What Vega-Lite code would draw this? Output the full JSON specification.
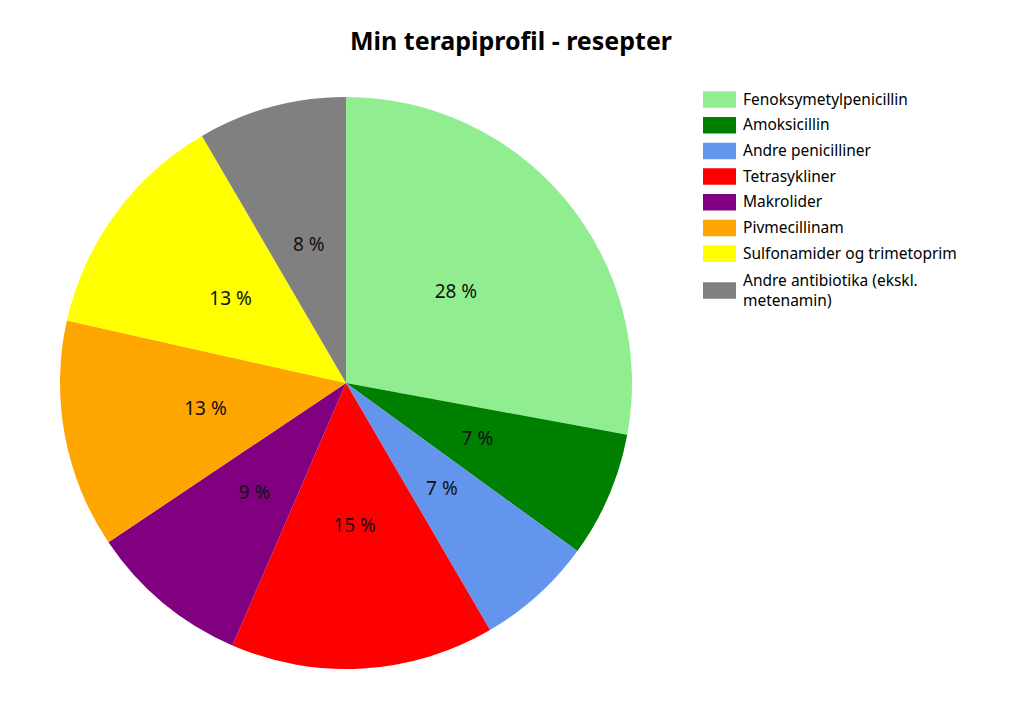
{
  "$schema": "https://vega.github.io/schema/vega-lite/v6.json",
  "autosize": "none",
  "width": 692,
  "height": 572,
  "padding": {"left": 0, "top": 97, "right": 332, "bottom": 37},
  "background": "white",
  "title": {
    "text": "Min terapiprofil - resepter",
    "font": "Noto Sans",
    "fontSize": 25,
    "fontWeight": "bold",
    "color": "#000000",
    "anchor": "middle",
    "dx": 165,
    "offset": 28
  },
  "config": {"view": {"stroke": null}},
  "data": {
    "values": [
      {"nr": 1, "gruppe": "Fenoksymetylpenicillin", "andel": 27.9, "etikett": "28 %"},
      {"nr": 2, "gruppe": "Amoksicillin", "andel": 7.1, "etikett": "7 %"},
      {"nr": 3, "gruppe": "Andre penicilliner", "andel": 6.6, "etikett": "7 %"},
      {"nr": 4, "gruppe": "Tetrasykliner", "andel": 14.9, "etikett": "15 %"},
      {"nr": 5, "gruppe": "Makrolider", "andel": 9.1, "etikett": "9 %"},
      {"nr": 6, "gruppe": "Pivmecillinam", "andel": 12.9, "etikett": "13 %"},
      {"nr": 7, "gruppe": "Sulfonamider og trimetoprim", "andel": 13.1, "etikett": "13 %"},
      {"nr": 8, "gruppe": "Andre antibiotika (ekskl. metenamin)", "andel": 8.4, "etikett": "8 %"}
    ]
  },
  "encoding": {
    "theta": {"field": "andel", "type": "quantitative", "stack": true},
    "order": {"field": "nr", "type": "quantitative"}
  },
  "layer": [
    {
      "mark": {"type": "arc", "outerRadius": 286},
      "encoding": {
        "color": {
          "field": "gruppe",
          "type": "nominal",
          "sort": null,
          "scale": {
            "domain": ["Fenoksymetylpenicillin", "Amoksicillin", "Andre penicilliner", "Tetrasykliner", "Makrolider", "Pivmecillinam", "Sulfonamider og trimetoprim", "Andre antibiotika (ekskl. metenamin)"],
            "range": ["#90EE90", "#008000", "#6495ED", "#FF0000", "#800080", "#FFA500", "#FFFF00", "#808080"]
          },
          "legend": {
            "title": null,
            "orient": "none",
            "legendX": 703,
            "legendY": -14,
            "padding": 0,
            "symbolType": "M-1,-0.5H1V0.5H-1Z",
            "symbolSize": 1089,
            "symbolOpacity": 1,
            "symbolStrokeWidth": 0,
            "labelFont": "Noto Sans",
            "labelFontSize": 15.5,
            "labelColor": "#000000",
            "labelOffset": 7,
            "labelLimit": 300,
            "rowPadding": 0.7,
            "labelExpr": "datum.label == 'Andre antibiotika (ekskl. metenamin)' ? ['Andre antibiotika (ekskl.', 'metenamin)'] : datum.label",
            "encode": {
              "labels": {
                "update": {
                  "lineHeight": {"value": 20},
                  "dy": {"signal": "datum.value == 'Andre antibiotika (ekskl. metenamin)' ? 2 : 0"}
                }
              },
              "symbols": {
                "update": {
                  "shape": {"signal": "datum.value == 'Andre antibiotika (ekskl. metenamin)' ? 'M-1,0.18H1V1.18H-1Z' : 'M-1,-0.5H1V0.5H-1Z'"}
                }
              }
            }
          }
        }
      }
    },
    {
      "mark": {"type": "text", "radius": 143, "font": "Noto Sans", "fontSize": 19, "color": "#111111"},
      "encoding": {
        "detail": {"field": "gruppe", "type": "nominal"},
        "text": {"field": "etikett", "type": "nominal"}
      }
    }
  ]
}
